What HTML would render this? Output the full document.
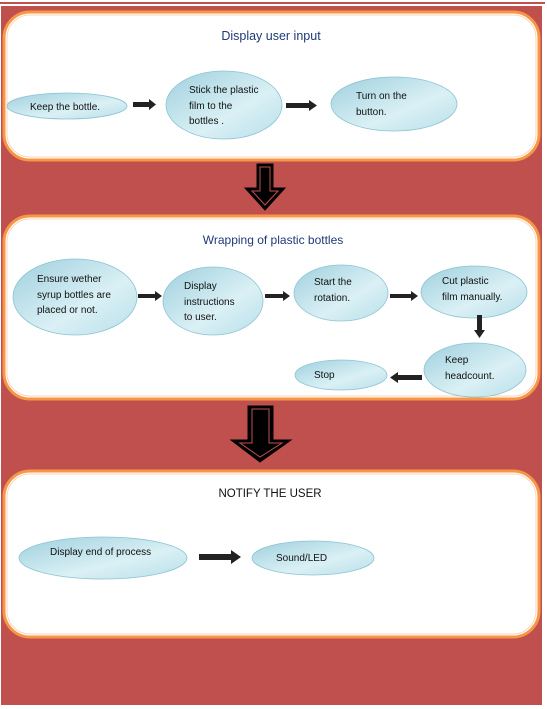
<!DOCTYPE html>
<html><head><style>
html,body{margin:0;padding:0;background:#fff;}
svg{display:block;}
text{font-family:"Liberation Sans",sans-serif;font-size:10px;fill:#111;}
.t{font-size:12.5px;fill:#1f3a78;}
</style></head><body>
<svg width="547" height="709" viewBox="0 0 547 709" xmlns="http://www.w3.org/2000/svg">
<defs>
<linearGradient id="g" x1="0" y1="0" x2="1" y2="1">
<stop offset="0" stop-color="#9fd0de"/><stop offset="0.6" stop-color="#daf0f5"/><stop offset="1" stop-color="#b8dfe9"/>
</linearGradient>
</defs>
<rect x="0" y="2" width="545" height="2" fill="#c0504d"/>
<rect x="1" y="6" width="541" height="697" fill="#c0504d"/>
<rect x="1" y="703" width="541" height="2" fill="#c0504d"/>
<g stroke="#f79646" stroke-width="3" fill="#fff">
<rect x="4" y="12" width="535" height="148" rx="26"/>
<rect x="4" y="216" width="535" height="183" rx="26"/>
<rect x="4" y="471" width="535" height="166" rx="26"/>
</g>
<g stroke="#fcd5b4" stroke-width="1" fill="none">
<rect x="7" y="15" width="529" height="142" rx="23"/>
<rect x="7" y="219" width="529" height="177" rx="23"/>
<rect x="7" y="474" width="529" height="160" rx="23"/>
</g>
<text class="t" x="271" y="40" text-anchor="middle">Display user input</text>
<text class="t" x="273" y="244" text-anchor="middle" style="font-size:12px">Wrapping of plastic bottles</text>
<text x="270" y="497" text-anchor="middle" style="font-size:11.5px;fill:#111">NOTIFY THE USER</text>
<g fill="url(#g)" stroke="#8cc3d3" stroke-width="0.8">
<ellipse cx="67" cy="106" rx="60" ry="13"/>
<ellipse cx="224" cy="105" rx="58" ry="34"/>
<ellipse cx="394" cy="104" rx="63" ry="27"/>
<ellipse cx="75" cy="297" rx="62" ry="38"/>
<ellipse cx="213" cy="301" rx="50" ry="34"/>
<ellipse cx="341" cy="293" rx="47" ry="28"/>
<ellipse cx="474" cy="292" rx="53" ry="26"/>
<ellipse cx="475" cy="370" rx="51" ry="27"/>
<ellipse cx="341" cy="375" rx="46" ry="15"/>
<ellipse cx="103" cy="558" rx="84" ry="21"/>
<ellipse cx="313" cy="558" rx="61" ry="17"/>
</g>
<text x="30" y="110">Keep the bottle.</text>
<text x="189" y="93">Stick the plastic</text>
<text x="189" y="109">film to the</text>
<text x="189" y="124">bottles .</text>
<text x="356" y="99">Turn on the</text>
<text x="356" y="115">button.</text>
<text x="37" y="282">Ensure wether</text>
<text x="37" y="298">syrup bottles are</text>
<text x="37" y="313">placed or not.</text>
<text x="184" y="289">Display</text>
<text x="184" y="305">instructions</text>
<text x="184" y="320">to user.</text>
<text x="314" y="285">Start the</text>
<text x="314" y="301">rotation.</text>
<text x="442" y="284">Cut plastic</text>
<text x="442" y="300">film manually.</text>
<text x="445" y="363">Keep</text>
<text x="445" y="379">headcount.</text>
<text x="314" y="378">Stop</text>
<text x="50" y="555">Display end of process</text>
<text x="276" y="561">Sound/LED</text>
<g fill="#222">
<polygon points="133,102 149,102 149,99 156,104.5 149,110 149,107 133,107"/>
<polygon points="286,103 309,103 309,100 317,105.5 309,111 309,108 286,108"/>
<polygon points="138,294 155,294 155,291 162,296 155,301 155,298 138,298"/>
<polygon points="265,294 283,294 283,291 290,296 283,301 283,298 265,298"/>
<polygon points="390,294 411,294 411,291 418,296 411,301 411,298 390,298"/>
<polygon points="477,315 482,315 482,330 485,330 479.5,338 474,330 477,330"/>
<polygon points="422,375 398,375 398,372 390,377.5 398,383 398,380 422,380"/>
<polygon points="199,554 231,554 231,550 241,557 231,564 231,560 199,560"/>
</g>
<g fill="#000" stroke="#000">
<polygon points="257,164 273,164 273,188 285,188 265,210 245,188 257,188"/>
<polygon points="248,406 273,406 273,440 291,440 260,462 231,440 248,440"/>
</g>
<g fill="none" stroke="#c0504d" stroke-width="1">
<polygon points="260,167 270,167 270,191 278,191 265,205 252,191 260,191"/>
<polygon points="252,409 269,409 269,443 282,443 260,457 240,443 252,443"/>
</g>
</svg>
</body></html>
